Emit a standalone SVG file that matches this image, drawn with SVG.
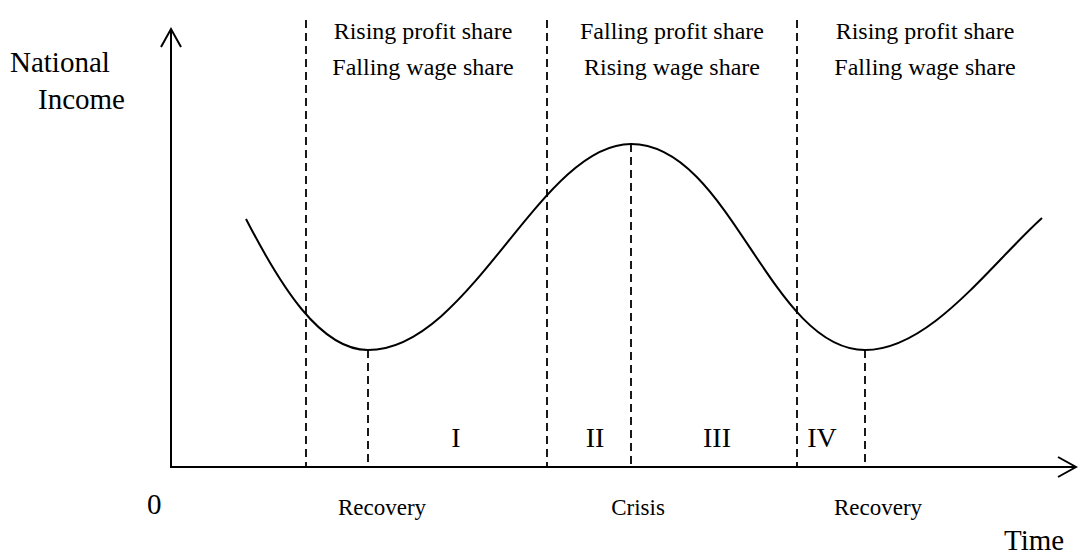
<svg xmlns="http://www.w3.org/2000/svg" width="1078" height="554" viewBox="0 0 1078 554">
<style>
.t{font-family:"Liberation Serif","Times New Roman",serif;fill:#000}
.hdr{font-size:24px;text-anchor:middle}
.lbl{font-size:23px;text-anchor:middle}
.ax{font-size:29px}
.rn{font-size:28px;text-anchor:middle}
.dash{stroke:#000;stroke-width:1.8;stroke-dasharray:8 5;fill:none}
.line{stroke:#000;stroke-width:2;fill:none}
</style>
<rect width="1078" height="554" fill="#fff"/>
<g id="axes">
<line class="line" x1="171" y1="29" x2="171" y2="467"/>
<polyline class="line" points="161,47 171,29 181,47"/>
<line class="line" x1="170" y1="467" x2="1076" y2="467"/>
<polyline class="line" points="1058,457 1076,467 1058,477"/>
</g>
<g id="dashes">
<line class="dash" x1="306" y1="20" x2="306" y2="467"/>
<line class="dash" x1="547" y1="20" x2="547" y2="467"/>
<line class="dash" x1="797" y1="20" x2="797" y2="467"/>
<line class="dash" x1="368" y1="350" x2="368" y2="467"/>
<line class="dash" x1="631" y1="144" x2="631" y2="467"/>
<line class="dash" x1="865" y1="350" x2="865" y2="467"/>
</g>
<g id="curve">
<path class="line" d="M246,219 C280,285 320,350 368,350 C470,350 540,144 631,144 C730,144 770,350 865,350 C930,350 990,265 1042,218"/>
</g>
<g id="labels">
<text class="t ax" x="10" y="72">National</text>
<text class="t ax" x="38" y="109">Income</text>
<text class="t hdr" x="423" y="39">Rising profit share</text>
<text class="t hdr" x="423" y="75">Falling wage share</text>
<text class="t hdr" x="672" y="39">Falling profit share</text>
<text class="t hdr" x="672" y="75">Rising wage share</text>
<text class="t hdr" x="925" y="39">Rising profit share</text>
<text class="t hdr" x="925" y="75">Falling wage share</text>
<text class="t rn" x="456" y="447">I</text>
<text class="t rn" x="595" y="447">II</text>
<text class="t rn" x="717" y="447">III</text>
<text class="t rn" x="822" y="447">IV</text>
<text class="t ax" x="147" y="514">0</text>
<text class="t lbl" x="382" y="515">Recovery</text>
<text class="t lbl" x="638" y="515">Crisis</text>
<text class="t lbl" x="878" y="515">Recovery</text>
<text class="t ax" x="1004" y="550">Time</text>
</g>
</svg>
